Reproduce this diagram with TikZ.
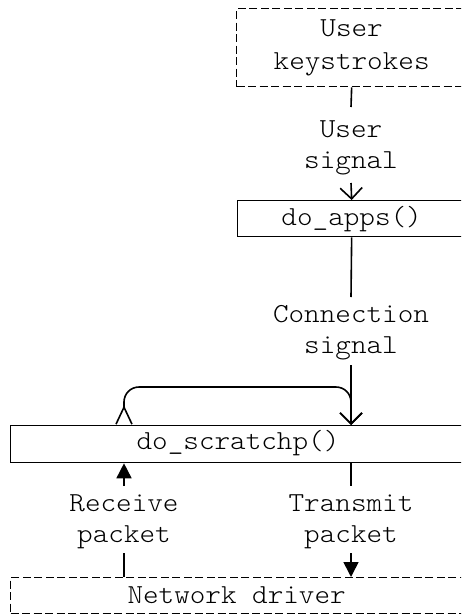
\documentclass[tikz,border=0pt]{standalone}
\usepackage{fontspec}
\setmainfont{Latin Modern Mono Light}[FakeStretch=1.08]
\usetikzlibrary{arrows.meta}

\begin{document}
\begin{tikzpicture}[
  x=1pt, y=1pt,
  every node/.style={font=\fontsize{27.5}{33}\selectfont},
  wire/.style={line width=1.6pt},
  openarrow/.style={-{Straight Barb[length=11pt,width=22pt]}},
  solidarrow/.style={-{Triangle[length=15pt,width=15pt]}},
  procbox/.style={draw, line width=1.3pt, inner sep=0pt, anchor=north west},
  extbox/.style={procbox, dash pattern=on 8pt off 3.5pt},
  lbl/.style={align=center, inner sep=0pt, font=\fontsize{27.5}{31}\selectfont},
]
\useasboundingbox (0,0) rectangle (461,-615);
\clip (0,0) rectangle (461,-615);

% blocks
\node[extbox, minimum width=230pt, minimum height=78pt, align=center] (keys) at (236,-8) {User\\keystrokes};
\node[procbox, minimum width=228pt, minimum height=36pt] (apps) at (237,-200) {do\_apps()};
\node[procbox, minimum width=460pt, minimum height=37pt] (scr) at (10,-425) {};
\node at (238,-443.5) (scrtext) {do\_scratchp()};
\node[extbox, minimum width=452pt, minimum height=36pt] (drv) at (10,-577) {Network driver};

% column positions of the signal paths
\coordinate (rx) at (124,0);
\coordinate (tx) at (351,0);

% signal labels
\node[lbl] (usig) at (351,-148) {User\\signal};
\node[lbl] (csig) at (351,-333) {Connection\\signal};
\node[lbl] (rcv) at (124,-522) {Receive\\packet};
\node[lbl] (trn) at (351,-522) {Transmit\\packet};

% keystrokes -> do_apps
\draw[wire] (keys.south) -- ([yshift=41pt]usig.center);
\draw[wire, openarrow] ([yshift=-35pt]usig.center) -- (apps.north);

% do_apps -> do_scratchp
\draw[wire] (apps.south) -- ([yshift=36pt]csig.center);
\draw[wire, openarrow] ([yshift=-32pt]csig.center) -- (scr.north -| tx);

% loop back over do_scratchp
\draw[wire, rounded corners=15pt, {Straight Barb[reversed,length=17pt,width=16pt]}-{Straight Barb[length=11pt,width=22pt]}]
  (scr.north -| rx) -- ([yshift=38pt]scr.north -| rx) -- ([yshift=38pt]scr.north -| tx) -- (scr.north -| tx);

% network driver <-> do_scratchp
\draw[wire, solidarrow] ([yshift=36pt]rcv.center) -- (scr.south -| rx);
\draw[wire] ([yshift=-31pt]rcv.center) -- (drv.north -| rx);
\draw[wire] (scr.south -| tx) -- ([yshift=36pt]trn.center);
\draw[wire, solidarrow] ([yshift=-31pt]trn.center) -- (drv.north -| tx);
\end{tikzpicture}
\end{document}
